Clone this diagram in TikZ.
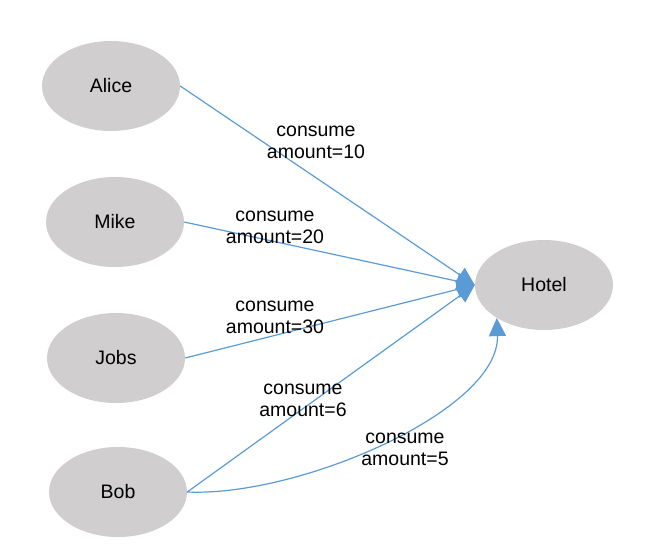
\documentclass[tikz,border=0pt]{standalone}
\usepackage{fontspec}
\setmainfont{Liberation Sans}
\usetikzlibrary{shapes.geometric,arrows.meta}
\definecolor{nodegray}{HTML}{D0CECE}
\definecolor{edgeblue}{HTML}{5B9BD5}
\tikzset{
  person/.style={ellipse, fill=nodegray, draw=none, minimum width=138pt, minimum height=90pt, inner sep=0pt, font=\fontsize{19.5}{22}\selectfont},
  rel/.style={draw=edgeblue, line width=1.2pt, -{Triangle[length=18pt,width=17pt]}, fill=none},
  lbl/.style={align=center, inner sep=0pt, font=\fontsize{19.5}{22}\selectfont}
}
\begin{document}
\begin{tikzpicture}[x=1pt,y=-1pt]
\useasboundingbox (0,0) rectangle (658,546);
\node[person] (alice) at (111,86) {Alice};
\node[person] (mike) at (115,222) {Mike};
\node[person] (jobs) at (116,358) {Jobs};
\node[person] (bob) at (118,492) {Bob};
\node[person] (hotel) at (544,285) {Hotel};

\draw[rel] (alice.east) -- (hotel.west);
\draw[rel] (mike.east) -- (hotel.west);
\draw[rel] (jobs.east) -- (hotel.west);
\draw[rel] (bob.east) -- (hotel.west);
\draw[rel] (bob.east) .. controls (300,497) and (500,410) .. (hotel.215);

\node[lbl] (l1) at (316,142) {consume\\amount=10};
\node[lbl] (l2) at (275,227) {consume\\amount=20};
\node[lbl] (l3) at (275,317) {consume\\amount=30};
\node[lbl] (l4) at (303,400) {consume\\amount=6};
\node[lbl] (l5) at (405,449) {consume\\amount=5};
\end{tikzpicture}
\end{document}
